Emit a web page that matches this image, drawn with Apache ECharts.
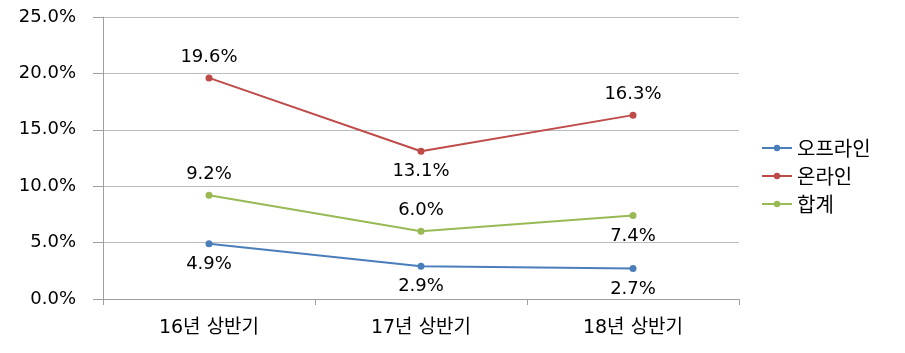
<!DOCTYPE html>
<html>
<head>
<meta charset="utf-8">
<script src="https://cdn.jsdelivr.net/npm/echarts@6/dist/echarts.min.js"></script>
<style>
  html, body { margin: 0; padding: 0; background: #fff; }
  #chart { width: 905px; height: 353px; }
</style>
</head>
<body>
<div id="chart"></div>
<script>
const categories = ['16년 상반기', '17년 상반기', '18년 상반기']
const offline = [4.9, 2.9, 2.7]
const online = [19.6, 13.1, 16.3]
const total = [9.2, 6.0, 7.4]
// 라벨 위치 (위/아래)
const onlinePos = ['top', 'bottom', 'top']
const totalPos = ['top', 'top', 'bottom']

const font = 'DejaVu Sans, "Noto Sans CJK KR", sans-serif'

function withPos(values, positions) {
    return values.map((v, i) => ({ value: v, label: { position: positions[i] } }))
}

function lineSeries(name, color, data, defaultPos) {
    return {
        name: name,
        type: 'line',
        data: data,
        symbol: 'circle',
        symbolSize: 7,
        lineStyle: { color: color, width: 2 },
        itemStyle: { color: color },
        label: {
            show: true,
            position: defaultPos,
            distance: 8,
            color: '#000',
            fontSize: 18,
            fontFamily: font,
            formatter: p => p.value.toFixed(1) + '%'
        }
    }
}

const chart = echarts.init(document.getElementById('chart'))
chart.setOption({
    animation: false,
    grid: { left: 103, right: 166, top: 17, bottom: 54 },
    legend: {
        orient: 'vertical',
        left: 756,
        top: 133,
        itemWidth: 30,
        itemHeight: 8,
        itemGap: 8,
        textStyle: { fontSize: 20, color: '#000', fontFamily: '"Noto Sans CJK KR", sans-serif' },
        data: ['오프라인', '온라인', '합계']
    },
    xAxis: {
        type: 'category',
        data: categories,
        boundaryGap: true,
        axisLine: { lineStyle: { color: '#a0a0a0', width: 1 } },
        axisTick: { show: true, length: 6, lineStyle: { color: '#a0a0a0' } },
        axisLabel: { fontSize: 19, color: '#000', margin: 20, fontFamily: font }
    },
    yAxis: {
        type: 'value',
        min: 0,
        max: 25,
        interval: 5,
        axisLine: { show: true, lineStyle: { color: '#a0a0a0', width: 1 } },
        axisTick: { show: true, length: 10, lineStyle: { color: '#a0a0a0' } },
        splitLine: { lineStyle: { color: '#bcbcbc', width: 1 } },
        axisLabel: {
            fontSize: 18, color: '#000', margin: 27, fontFamily: font,
            formatter: v => v.toFixed(1) + '%'
        }
    },
    series: [
        lineSeries('오프라인', '#4a7ebb', offline, 'bottom'),
        lineSeries('온라인', '#be4b48', withPos(online, onlinePos), 'top'),
        lineSeries('합계', '#98b954', withPos(total, totalPos), 'top')
    ]
})
</script>
</body>
</html>
